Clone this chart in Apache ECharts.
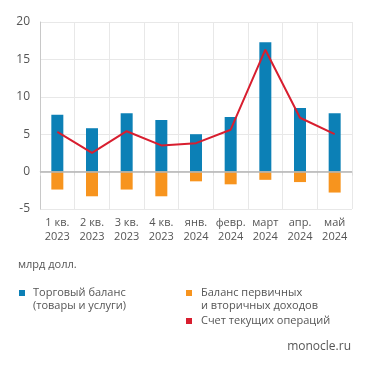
<!DOCTYPE html>
<html><head><meta charset="utf-8">
<script src="https://cdn.jsdelivr.net/npm/echarts@6/dist/echarts.min.js"></script>
<style>html,body{margin:0;padding:0;background:#fff}#c{width:371px;height:370px}</style>
</head><body><div id="c"></div>
<script>
const categories = ['1 кв.\n2023','2 кв.\n2023','3 кв.\n2023','4 кв.\n2023','янв.\n2024','февр.\n2024','март\n2024','апр.\n2024','май\n2024'];
const tradeBalance = [7.6, 5.8, 7.8, 6.9, 5.0, 7.3, 17.3, 8.5, 7.8];
const incomeBalance = [-2.4, -3.3, -2.4, -3.3, -1.3, -1.7, -1.1, -1.4, -2.8];
const currentAccount = [5.3, 2.5, 5.4, 3.5, 3.8, 5.6, 16.3, 7.2, 5.0];
const seriesNames = ['Торговый баланс\n(товары и услуги)', 'Баланс первичных\nи вторичных доходов', 'Счет текущих операций'];
const unitLabel = 'млрд долл.';
const sourceLabel = 'monocle.ru';

const FONT = 'Open Sans';
const C_BLUE = '#0c80b6', C_ORANGE = '#f7941e', C_RED = '#d81e2f';
const chart = echarts.init(document.getElementById('c'));
const txt = (x, y, t, extra) => Object.assign({type:'text', left:x, top:y, style:{text:t, fill:'#555', font:'11px "'+FONT+'"', lineHeight:12.5}}, extra||{});
chart.setOption({
  animation:false,
  textStyle:{fontFamily:FONT},
  grid:{left:40, right:19, top:22, bottom:161},
  xAxis:{type:'category', data:categories,
    axisLine:{show:true, lineStyle:{color:'#e3e3e3'}},
    axisTick:{show:true, length:4, lineStyle:{color:'#ddd'}},
    splitLine:{show:true, lineStyle:{color:'#e8e8e8'}},
    axisLabel:{color:'#555', fontSize:11, lineHeight:14, margin:7, interval:0}},
  yAxis:{type:'value', min:-5, max:20, interval:5,
    axisLine:{show:true, lineStyle:{color:'#c8c8c8'}},
    axisTick:{show:false},
    splitLine:{lineStyle:{color:'#e8e8e8'}},
    axisLabel:{color:'#555', fontSize:12, margin:10}},
  series:[
    {name:seriesNames[0], type:'bar', stack:'s', data:tradeBalance, barWidth:12, itemStyle:{color:C_BLUE},
     markLine:{silent:true, symbol:'none', label:{show:false}, lineStyle:{color:'#b5b5b5', type:'solid', width:1.5}, data:[{yAxis:0}]}},
    {name:seriesNames[1], type:'bar', stack:'s', data:incomeBalance, barWidth:12, itemStyle:{color:C_ORANGE}},
    {name:seriesNames[2], type:'line', data:currentAccount, symbol:'none', lineStyle:{color:C_RED, width:2}, itemStyle:{color:C_RED}, z:5}
  ],
  graphic:[
    txt(18, 259, unitLabel),
    {type:'rect', left:19, top:290, shape:{width:6, height:6}, style:{fill:C_BLUE}},
    txt(33, 287, seriesNames[0]),
    {type:'rect', left:186, top:290, shape:{width:6, height:6}, style:{fill:C_ORANGE}},
    txt(201, 287, seriesNames[1]),
    {type:'rect', left:186, top:318, shape:{width:6, height:6}, style:{fill:C_RED}},
    txt(201, 315, seriesNames[2]),
    txt(null, 341, sourceLabel, {right:20, style:{text:sourceLabel, fill:'#555', font:'12px "'+FONT+'"'}})
  ]
});
</script></body></html>
